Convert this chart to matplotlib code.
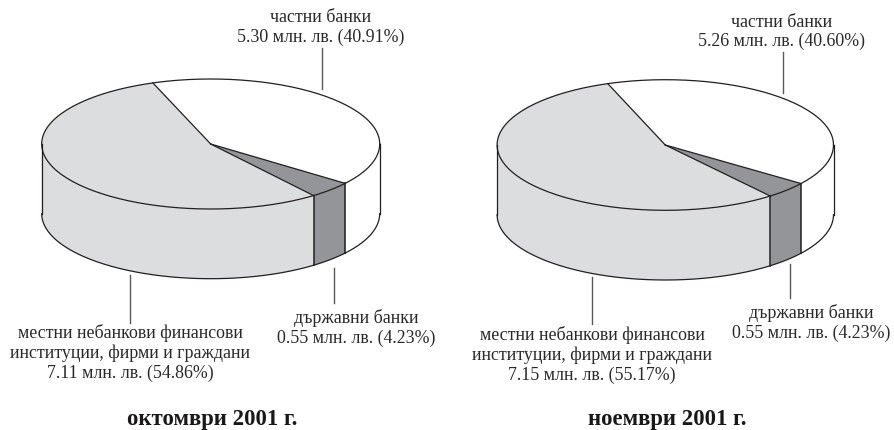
#!/usr/bin/python
import matplotlib
matplotlib.use('Agg')
import matplotlib.pyplot as plt
import numpy as np

plt.rcParams['font.family'] = ['Liberation Serif', 'DejaVu Serif']

## order: private banks, state banks, local non-bank
names = ['частни банки', 'държавни банки',
         'местни небанкови финансови\nинституции, фирми и граждани']
colors = ['#ffffff', '#939598', '#dcdddf']
months = ['октомври 2001 г.', 'ноември 2001 г.']
amounts_oct = [5.30, 0.55, 7.11]
amounts_nov = [5.26, 0.55, 7.15]
percents_oct = [40.91, 4.23, 54.86]
percents_nov = [40.60, 4.23, 55.17]

line_col = '#231f20'
text_col = '#2b2829'
lead_col = '#58595b'
start = 110.0
depth = 69.7

fig = plt.figure(figsize=(8.94, 4.30), dpi=100)
ax = fig.add_axes([0, 0, 1, 1])
ax.set_xlim(0, 894)
ax.set_ylim(430, 0)
ax.axis('off')


def arc(cx, cy, rx, ry, a0, a1):
    t = np.radians(np.linspace(a0, a1, 200))
    return cx + rx * np.cos(t), cy - ry * np.sin(t)


def pie3d(cx, cy, rx, ry, percents):
    ## slices run clockwise from the start angle
    edges = start - np.cumsum([0] + percents) * 3.6

    ## side wall: only the front half of the rim shows
    for i in range(3):
        lo, hi = max(edges[i + 1], -180), min(edges[i], 0)
        if hi <= lo:
            continue
        x, y = arc(cx, cy, rx, ry, hi, lo)
        xs = np.concatenate([x, x[::-1]])
        ys = np.concatenate([y, y[::-1] + depth])
        ax.fill(xs, ys, facecolor=colors[i], edgecolor='none', zorder=1)
        ax.plot(x, y + depth, color=line_col, lw=0.9, zorder=3)

    ## wall outline
    ax.plot([cx - rx, cx - rx], [cy, cy + depth], color=line_col, lw=0.9, zorder=3)
    ax.plot([cx + rx, cx + rx], [cy, cy + depth], color=line_col, lw=0.9, zorder=3)
    for a in edges[1:3]:
        x, y = arc(cx, cy, rx, ry, a, a)
        ax.plot([x[0], x[0]], [y[0], y[0] + depth], color=line_col, lw=1.1, zorder=3)

    ## top face
    for i in range(3):
        x, y = arc(cx, cy, rx, ry, edges[i], edges[i + 1])
        ax.fill(np.r_[cx, x], np.r_[cy, y], facecolor=colors[i],
                edgecolor='none', zorder=2)
    x, y = arc(cx, cy, rx, ry, 0, 360)
    ax.plot(x, y, color=line_col, lw=0.9, zorder=4)
    for a in edges[:3]:
        x, y = arc(cx, cy, rx, ry, a, a)
        ax.plot([cx, x[0]], [cy, y[0]], color=line_col, lw=0.9, zorder=4)


def label(x, y, name, amount, percent):
    s = '%s\n%.2f млн. лв. (%.2f%%)' % (name, amount, percent)
    ax.text(x, y, s, ha='center', va='center', fontsize=12.9, color=text_col,
            linespacing=1.17)


def leader(x, y0, y1):
    ax.plot([x, x], [y0, y1], color=lead_col, lw=1.0, zorder=5)


## October
pie3d(210.7, 144, 169, 65, percents_oct)
leader(322, 48, 89)
leader(130, 275, 323)
leader(334, 268, 303)
label(320.7, 27.5, names[0], amounts_oct[0], percents_oct[0])
label(356, 328, names[1], amounts_oct[1], percents_oct[1])
label(130, 353, names[2], amounts_oct[2], percents_oct[2])
ax.text(212, 420, months[0], ha='center', va='center', fontsize=16.4,
        fontweight='bold', color='#1a1718')

## November
pie3d(665.3, 145, 168.2, 65.3, percents_nov)
leader(782.7, 52, 92.5)
leader(592.3, 277, 324)
leader(789.7, 264, 298)
label(782, 32, names[0], amounts_nov[0], percents_nov[0])
label(811, 323, names[1], amounts_nov[1], percents_nov[1])
label(592, 355, names[2], amounts_nov[2], percents_nov[2])
ax.text(667, 420, months[1], ha='center', va='center', fontsize=16.4,
        fontweight='bold', color='#1a1718')

plt.savefig('out.png', dpi=100)
